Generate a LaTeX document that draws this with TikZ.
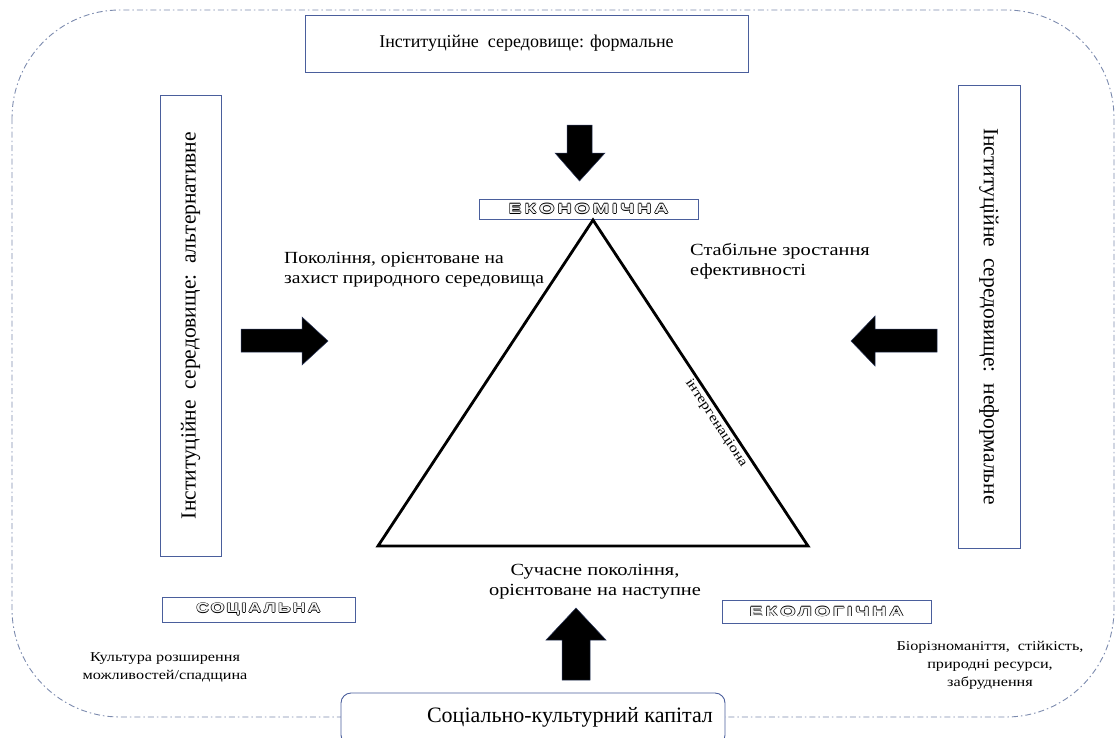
\documentclass[tikz,border=0pt]{standalone}
\usepackage{fontspec}
\setmainfont{Liberation Serif}
\newfontfamily\widefont[FakeStretch=1.2]{Liberation Serif}
\newfontfamily\notefont[FakeStretch=1.15]{Liberation Serif}
\newfontfamily\labelfont[FakeStretch=1.3,LetterSpace=16]{Liberation Sans}
\newfontfamily\widelabelfont[FakeStretch=1.45,LetterSpace=22]{Liberation Sans}
\definecolor{boxblue}{HTML}{4A5E9C}
\definecolor{frameblue}{HTML}{7C8BAE}
\definecolor{hollowfill}{HTML}{F4F4F4}
% hollow (outlined) lettering for the three pillar labels
\newcommand\hollowtxt[1]{%
  \makebox[0pt][l]{\kern0.7pt #1}%
  \makebox[0pt][l]{\kern-0.7pt #1}%
  \makebox[0pt][l]{\raisebox{0.7pt}{#1}}%
  \makebox[0pt][l]{\raisebox{-0.7pt}{#1}}%
  {\color{hollowfill}#1}}
\begin{document}
\begin{tikzpicture}[x=1pt,y=-1pt,
  frame/.style={draw=frameblue, line width=0.9pt,
    dash pattern=on 6pt off 3pt on 1.5pt off 3pt},
  envbox/.style={draw=boxblue, line width=0.9pt, fill=white, inner sep=0pt},
  pillar/.style={draw=boxblue, line width=0.9pt, fill=white, inner sep=0pt,
    font=\widelabelfont\bfseries\fontsize{13.5}{15}\selectfont},
  blockarrow/.style={fill=black, draw=boxblue!60!black, line width=0.5pt},
  note/.style={font=\notefont\fontsize{17}{20}\selectfont, align=left, inner sep=0pt},
  small/.style={font=\widefont\fontsize{13.5}{18}\selectfont, align=center, inner sep=0pt}]
\useasboundingbox (0,0) rectangle (1118,737);

% dash-dot outer frame
\draw[frame, rounded corners=108pt] (12,10) rectangle (1114,717);

% institutional environment boxes
\node[envbox, minimum width=443pt, minimum height=57pt,
  font=\fontsize{18}{21}\selectfont] (formal) at (526.5,43.5)
  {Інституційне\ \ середовище: формальне};
\node[envbox, minimum width=461pt, minimum height=61pt, rotate=90,
  font=\fontsize{21.5}{24}\selectfont] (altern) at (190.5,325.5)
  {Інституційне\ \ середовище:\ \ альтернативне};
\node[envbox, minimum width=463pt, minimum height=62pt, rotate=-90,
  font=\fontsize{21.5}{24}\selectfont] (informal) at (989,316.5)
  {Інституційне\ \ середовище:\ \ неформальне};
\node[envbox, rounded corners=10pt, minimum width=384pt, minimum height=52pt]
  (capital) at (533,719) {};
\node[font=\fontsize{22}{25}\selectfont, inner sep=0pt] (captext) at (570,717)
  {Соціально-культурний капітал};

% pillar labels
\node[pillar, minimum width=219pt, minimum height=20pt] (econ) at (588.5,209)
  {\hollowtxt{ЕКОНОМІЧНА}};
\node[pillar, minimum width=193pt, minimum height=25pt,
  font=\labelfont\bfseries\fontsize{13.5}{16}\selectfont] (soc) at (258.5,609.5)
  {\hollowtxt{СОЦІАЛЬНА}};
\node[pillar, minimum width=209pt, minimum height=23pt] (eco) at (826.5,611.5)
  {\hollowtxt{ЕКОЛОГІЧНА}};

% triangle
\coordinate (apex) at (593,220);
\coordinate (bl) at (378,546);
\coordinate (br) at (808,546);
\draw[line width=2.8pt, line join=miter] (apex) -- (br) -- (bl) -- cycle;

% block arrows pointing towards the triangle
\fill[blockarrow] (567,125) -- (592,125) -- (592,153) -- (605,153) -- (579.5,181)
  -- (555,153) -- (567,153) -- cycle;
\fill[blockarrow] (241,329) -- (302,329) -- (302,317) -- (328,341) -- (302,365)
  -- (302,352) -- (241,352) -- cycle;
\fill[blockarrow] (937,329) -- (875,329) -- (875,316) -- (851,341) -- (875,366)
  -- (875,352) -- (937,352) -- cycle;
\fill[blockarrow] (562,680) -- (590,680) -- (590,640) -- (606,640) -- (576,608)
  -- (546,640) -- (562,640) -- cycle;

% texts around the triangle
\node[note, anchor=west] (gen) at (284,270)
  {Покоління, орієнтоване на\\захист природного середовища};
\node[note, anchor=west, font=\widefont\fontsize{17}{20}\selectfont] (growth) at (690,261)
  {Стабільне зростання\\ефективності};
\node[note, align=center, font=\widefont\fontsize{17}{20}\selectfont] (modern) at (595,582)
  {Сучасне покоління,\\орієнтоване на наступне};
\node[font=\widefont\fontsize{13.5}{16}\selectfont, rotate=-56.6, inner sep=0pt]
  (inter) at (716,423) {інтергенаціона};
\node[small] (culture) at (165,667)
  {Культура розширення\\можливостей/спадщина};
\node[small] (bio) at (990,665)
  {Біорізноманіття,\ \ стійкість,\\природні ресурси,\\забруднення};
\end{tikzpicture}
\end{document}
